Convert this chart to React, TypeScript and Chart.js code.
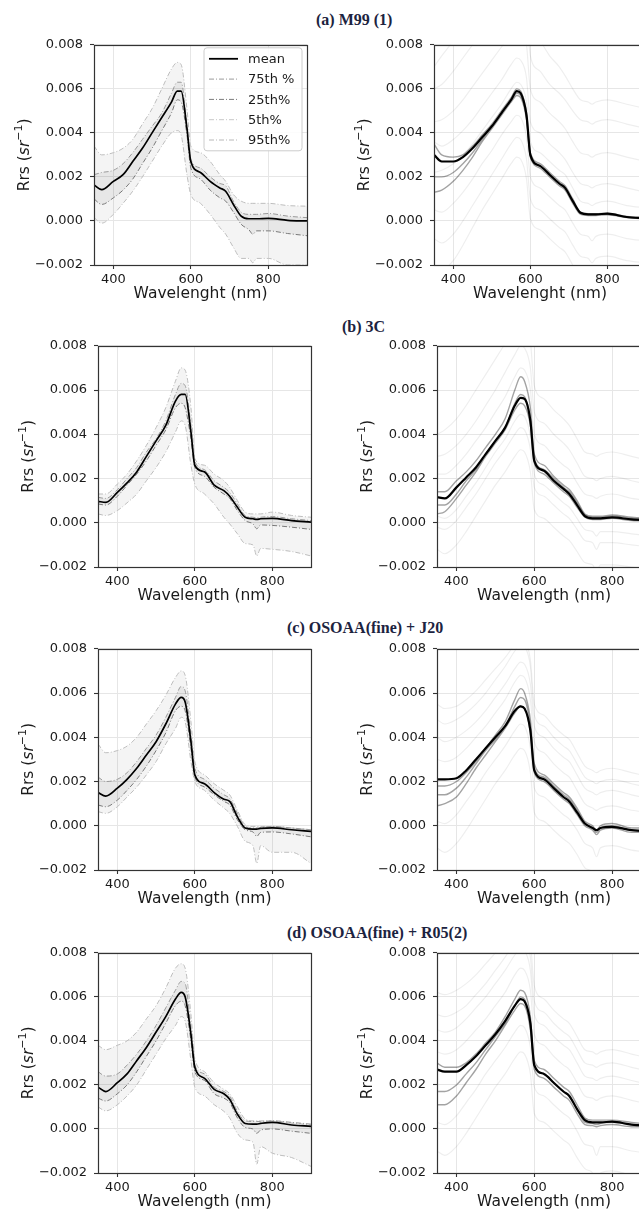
import React, { useEffect, useRef } from "react";
import { Chart, registerables } from "chart.js";
Chart.register(...registerables);

// ---------------- DATA ----------------
const WAVELENGTHS = [350, 370, 400, 425, 450, 475, 500, 525, 550, 565, 575, 590, 600, 625, 650, 675, 690, 710, 730, 750, 760, 770, 800, 850, 900];
const X_TICKS = [400, 600, 800];
const Y_TICKS = [-0.002, 0, 0.002, 0.004, 0.006, 0.008];
const PANEL_TITLES = ["(a) M99 (1)", "(b) 3C", "(c) OSOAA(fine) + J20", "(d) OSOAA(fine) + R05(2)"];
const X_TITLES = ["Wavelenght (nm)", "Wavelength (nm)", "Wavelength (nm)", "Wavelength (nm)"];
const LEGEND_LABELS = ["mean", "75th %", "25th%", "5th%", "95th%"];

// (a) M99 (1) statistics
const A_MEAN = [0.00164, 0.00142, 0.0018, 0.0021, 0.0027, 0.0033, 0.0040, 0.0047, 0.0054, 0.0059, 0.0059, 0.0042, 0.0027, 0.0022, 0.0018, 0.0015, 0.00135, 0.00075, 0.00022, 0.0001, 0.0001, 0.0001, 0.00012, 0.00003, 0.0];
const A_P75 = [0.0021, 0.0022, 0.0023, 0.0026, 0.0031, 0.0037, 0.0043, 0.0049, 0.0058, 0.0063, 0.0063, 0.0043, 0.0028, 0.0024, 0.0020, 0.0017, 0.0016, 0.0009, 0.0004, 0.0003, 0.0003, 0.0003, 0.00034, 0.00022, 0.00015];
const A_P25 = [0.0010, 0.00075, 0.00105, 0.0014, 0.0019, 0.0026, 0.0033, 0.0041, 0.0049, 0.0055, 0.0054, 0.0039, 0.0024, 0.0019, 0.0014, 0.00105, 0.0009, 0.0004, -0.00015, -0.0004, -0.0006, -0.00045, -0.00045, -0.00057, -0.00067];
const A_P95 = [0.0034, 0.0030, 0.0031, 0.0033, 0.0037, 0.0044, 0.0051, 0.0060, 0.0069, 0.0072, 0.0071, 0.0051, 0.0034, 0.0031, 0.0027, 0.0021, 0.0018, 0.0012, 0.0009, 0.0008, 0.0008, 0.0008, 0.0008, 0.0007, 0.00067];
const A_P5 = [0.00015, -0.0001, 0.0003, 0.0008, 0.00135, 0.0020, 0.0027, 0.0034, 0.0040, 0.0041, 0.0039, 0.0021, 0.0012, 0.0008, 0.0003, -0.0003, -0.0006, -0.0012, -0.0017, -0.0017, -0.0019, -0.0017, -0.0017, -0.0020, -0.0020];

// (b) 3C statistics
const B_MEAN = [0.00097, 0.00092, 0.00137, 0.0018, 0.0023, 0.0030, 0.0037, 0.0044, 0.0055, 0.0058, 0.0058, 0.0041, 0.0026, 0.0023, 0.0017, 0.00145, 0.0012, 0.0007, 0.00025, 0.00018, 0.00015, 0.00018, 0.0002, 0.0001, 0.00003];
const B_P75 = [0.00115, 0.0011, 0.0015, 0.0020, 0.0025, 0.0032, 0.0038, 0.0046, 0.0058, 0.0063, 0.0062, 0.0044, 0.0028, 0.0024, 0.0019, 0.0016, 0.00137, 0.00085, 0.00033, 0.00025, 0.00022, 0.00025, 0.00028, 0.00018, 0.0001];
const B_P25 = [0.00085, 0.0008, 0.0012, 0.0017, 0.0022, 0.0028, 0.0035, 0.0042, 0.0052, 0.0054, 0.0052, 0.0038, 0.0025, 0.0021, 0.0016, 0.0013, 0.0011, 0.00055, 0.0001, -0.00005, -0.00027, -0.0001, -0.00012, -0.0002, -0.0003];
const B_P95 = [0.0013, 0.0013, 0.00175, 0.0022, 0.0028, 0.0035, 0.0043, 0.0052, 0.0064, 0.0070, 0.0069, 0.0052, 0.0029, 0.0026, 0.0022, 0.0019, 0.0016, 0.0010, 0.00048, 0.0004, 0.0004, 0.0004, 0.00048, 0.00033, 0.00025];
const B_P5 = [0.0004, 0.00033, 0.00055, 0.0009, 0.0013, 0.0019, 0.0025, 0.0032, 0.0041, 0.0046, 0.0044, 0.0026, 0.00175, 0.0013, 0.00085, 0.00025, -0.00005, -0.0005, -0.00094, -0.0010, -0.0015, -0.00116, -0.0012, -0.0013, -0.0015];

// (c) OSOAA(fine) + J20 statistics
const C_MEAN = [0.0015, 0.00134, 0.0017, 0.0021, 0.0026, 0.0032, 0.0038, 0.0046, 0.0055, 0.0058, 0.0056, 0.0038, 0.0023, 0.0019, 0.0015, 0.0012, 0.0011, 0.0004, -0.0001, -0.00015, -0.00015, -0.00012, -0.0001, -0.00018, -0.00025];
const C_P75 = [0.0022, 0.0020, 0.0021, 0.0024, 0.0029, 0.0035, 0.0041, 0.0049, 0.0058, 0.0063, 0.0061, 0.0041, 0.0026, 0.0021, 0.0017, 0.0014, 0.00123, 0.00057, -0.00003, -0.0001, -0.0001, -0.00008, -0.00003, -0.0001, -0.00018];
const C_P25 = [0.00094, 0.00086, 0.00116, 0.0016, 0.0021, 0.0027, 0.0034, 0.0042, 0.0052, 0.0054, 0.0052, 0.0035, 0.0022, 0.00175, 0.0014, 0.0011, 0.00094, 0.00027, -0.00018, -0.00028, -0.00048, -0.0003, -0.00028, -0.00037, -0.0005];
const C_P95 = [0.0037, 0.0033, 0.0034, 0.0036, 0.0040, 0.0046, 0.0052, 0.0059, 0.0067, 0.0070, 0.0068, 0.0047, 0.0029, 0.0023, 0.0019, 0.0016, 0.0014, 0.0007, 0.00005, -0.00003, -0.00003, -0.00003, -0.00003, -0.0001, -0.00018];
const C_P5 = [0.00064, 0.00056, 0.00086, 0.0013, 0.00175, 0.0023, 0.0029, 0.0037, 0.0044, 0.0049, 0.0047, 0.0029, 0.0020, 0.0016, 0.00116, 0.0008, 0.00056, -0.00003, -0.0007, -0.0009, -0.0017, -0.0009, -0.0012, -0.0012, -0.0017];

// (d) OSOAA(fine) + R05(2) statistics
const D_MEAN = [0.0019, 0.0017, 0.0021, 0.0025, 0.0031, 0.0037, 0.0044, 0.0051, 0.0059, 0.0062, 0.0060, 0.0043, 0.0028, 0.0023, 0.0018, 0.0016, 0.00135, 0.00067, 0.00025, 0.00022, 0.00022, 0.00025, 0.0003, 0.00018, 0.00012];
const D_P75 = [0.0026, 0.0024, 0.0025, 0.0029, 0.0034, 0.0040, 0.0047, 0.0055, 0.0063, 0.0067, 0.0066, 0.0046, 0.0029, 0.0025, 0.0019, 0.0017, 0.0015, 0.0008, 0.00037, 0.00034, 0.00034, 0.00034, 0.00037, 0.0003, 0.00022];
const D_P25 = [0.0014, 0.00127, 0.0016, 0.0020, 0.0026, 0.0033, 0.0040, 0.0048, 0.0056, 0.0058, 0.0056, 0.0040, 0.0026, 0.0022, 0.0016, 0.0014, 0.0012, 0.0005, 0.00007, 0.0, -0.0002, -0.00005, 0.0, -0.0001, -0.0002];
const D_P95 = [0.0038, 0.0036, 0.0038, 0.0040, 0.0044, 0.0050, 0.0056, 0.0064, 0.0073, 0.0075, 0.0073, 0.0052, 0.0032, 0.0026, 0.0021, 0.0018, 0.0016, 0.0010, 0.00045, 0.00037, 0.00037, 0.00037, 0.00037, 0.00027, 0.00018];
const D_P5 = [0.0010, 0.00082, 0.0011, 0.0015, 0.0020, 0.0027, 0.0034, 0.0041, 0.0047, 0.0051, 0.0049, 0.0031, 0.0019, 0.0015, 0.0011, 0.0008, 0.0005, -0.0002, -0.0005, -0.0006, -0.0016, -0.0008, -0.0011, -0.0013, -0.0017];

// Right-hand panels: dense core spectrum, near-core spectra, faint outlying spectra
const A_CORE = [0.0030, 0.0027, 0.0027, 0.0029, 0.0033, 0.0038, 0.0043, 0.0049, 0.0055, 0.0059, 0.0058, 0.0048, 0.0030, 0.0025, 0.0021, 0.0017, 0.0015, 0.0009, 0.00037, 0.0003, 0.0003, 0.0003, 0.00033, 0.00018, 0.00012];
const A_NEAR1 = [0.0013, 0.0014, 0.0018, 0.0023, 0.0029, 0.0036, 0.0042, 0.0048, 0.0054, 0.0057, 0.0056, 0.0046, 0.0029, 0.0024, 0.0020, 0.0016, 0.0014, 0.0008, 0.0003, 0.00025, 0.00025, 0.00025, 0.00028, 0.00015, 0.0001];
const A_NEAR2 = [0.0020, 0.0020, 0.0022, 0.0026, 0.0031, 0.0037, 0.0043, 0.0049, 0.0055, 0.0058, 0.0057, 0.0047, 0.0029, 0.0025, 0.0021, 0.0017, 0.0015, 0.0009, 0.00035, 0.0003, 0.0003, 0.0003, 0.0003, 0.00017, 0.00011];
const A_NEAR3 = [0.0035, 0.0030, 0.0029, 0.0030, 0.0034, 0.0039, 0.0044, 0.0050, 0.0056, 0.0060, 0.0059, 0.0049, 0.0031, 0.0026, 0.0022, 0.0018, 0.0016, 0.0010, 0.0004, 0.00033, 0.00033, 0.00033, 0.00035, 0.0002, 0.00014];
const A_FAINT1 = [0.0070, 0.0075, 0.0082, 0.0090, 0.0096, 0.0100, 0.0105, 0.0110, 0.0112, 0.0113, 0.0112, 0.0108, 0.0090, 0.0082, 0.0075, 0.0070, 0.0066, 0.0060, 0.0055, 0.0054, 0.0053, 0.0054, 0.0055, 0.0053, 0.0051];
const A_FAINT2 = [0.0060, 0.0062, 0.0068, 0.0074, 0.0080, 0.0086, 0.0090, 0.0095, 0.0098, 0.0100, 0.0099, 0.0094, 0.0075, 0.0068, 0.0062, 0.0058, 0.0055, 0.0050, 0.0046, 0.0045, 0.0044, 0.0045, 0.0046, 0.0044, 0.0042];
const A_FAINT3 = [0.0045, 0.0046, 0.0050, 0.0055, 0.0061, 0.0067, 0.0073, 0.0079, 0.0085, 0.0088, 0.0087, 0.0080, 0.0060, 0.0054, 0.0049, 0.0045, 0.0042, 0.0036, 0.0031, 0.0030, 0.0029, 0.0030, 0.0031, 0.0029, 0.0027];
const A_FAINT4 = [0.0036, 0.0034, 0.0037, 0.0041, 0.0046, 0.0052, 0.0058, 0.0064, 0.0071, 0.0074, 0.0073, 0.0065, 0.0045, 0.0040, 0.0035, 0.0031, 0.0028, 0.0022, 0.0017, 0.0016, 0.0015, 0.0016, 0.0017, 0.0015, 0.0013];
const A_FAINT5 = [0.0022, 0.0023, 0.0026, 0.0030, 0.0035, 0.0041, 0.0047, 0.0053, 0.0060, 0.0063, 0.0062, 0.0054, 0.0036, 0.0031, 0.0027, 0.0023, 0.0021, 0.0015, 0.0009, 0.0008, 0.0007, 0.0008, 0.0009, 0.0007, 0.0006];
const A_FAINT6 = [0.0005, 0.0004, 0.0008, 0.0013, 0.0019, 0.0026, 0.0032, 0.0039, 0.0045, 0.0048, 0.0047, 0.0038, 0.0020, 0.0015, 0.0011, 0.0007, 0.0005, -0.0001, -0.0006, -0.0007, -0.0009, -0.0007, -0.0006, -0.0008, -0.0009];
const A_FAINT7 = [-0.0008, -0.0010, -0.0006, 0.0000, 0.0007, 0.0014, 0.0021, 0.0028, 0.0035, 0.0038, 0.0037, 0.0028, 0.0010, 0.0005, 0.0001, -0.0003, -0.0005, -0.0011, -0.0016, -0.0017, -0.0019, -0.0017, -0.0016, -0.0018, -0.0019];
const A_FAINT8 = [-0.0020, -0.0022, -0.0018, -0.0011, -0.0003, 0.0005, 0.0012, 0.0019, 0.0026, 0.0029, 0.0028, 0.0019, 0.0001, -0.0004, -0.0008, -0.0012, -0.0014, -0.0020, -0.0025, -0.0026, -0.0028, -0.0026, -0.0025, -0.0027, -0.0028];

const B_CORE = [0.00116, 0.0011, 0.0016, 0.00205, 0.0025, 0.0031, 0.0037, 0.0043, 0.0053, 0.00565, 0.0056, 0.0046, 0.0028, 0.00235, 0.0019, 0.00153, 0.0013, 0.0008, 0.0003, 0.0002, 0.0002, 0.0002, 0.00024, 0.00015, 0.00012];
const B_NEAR1 = [0.0004, 0.0005, 0.0011, 0.0017, 0.0023, 0.0030, 0.0036, 0.0042, 0.0051, 0.0054, 0.0053, 0.0044, 0.0027, 0.0022, 0.0018, 0.0014, 0.0012, 0.0007, 0.00025, 0.00015, 0.00015, 0.00015, 0.0002, 0.0001, 0.00008];
const B_NEAR2 = [0.0008, 0.0008, 0.0013, 0.0019, 0.0024, 0.0031, 0.0037, 0.0043, 0.0054, 0.0058, 0.0057, 0.0047, 0.0029, 0.0024, 0.0020, 0.0016, 0.0014, 0.0009, 0.00035, 0.00025, 0.00025, 0.00025, 0.0003, 0.0002, 0.00015];
const B_NEAR3 = [0.0014, 0.0014, 0.0019, 0.0023, 0.0028, 0.0034, 0.0040, 0.0047, 0.0060, 0.0066, 0.0064, 0.0052, 0.0031, 0.0026, 0.0021, 0.0017, 0.0015, 0.0010, 0.0004, 0.0003, 0.0003, 0.0003, 0.00035, 0.00025, 0.0002];
const B_FAINT1 = [0.0040, 0.0042, 0.0047, 0.0053, 0.0060, 0.0067, 0.0074, 0.0081, 0.0088, 0.0092, 0.0091, 0.0082, 0.0062, 0.0056, 0.0051, 0.0047, 0.0044, 0.0038, 0.0032, 0.0031, 0.0030, 0.0031, 0.0032, 0.0030, 0.0028];
const B_FAINT2 = [0.0030, 0.0031, 0.0035, 0.0040, 0.0046, 0.0053, 0.0060, 0.0068, 0.0076, 0.0080, 0.0079, 0.0070, 0.0050, 0.0045, 0.0040, 0.0036, 0.0033, 0.0027, 0.0021, 0.0020, 0.0019, 0.0020, 0.0021, 0.0019, 0.0017];
const B_FAINT3 = [0.0022, 0.0022, 0.0026, 0.0031, 0.0037, 0.0043, 0.0050, 0.0057, 0.0066, 0.0070, 0.0069, 0.0060, 0.0040, 0.0035, 0.0030, 0.0026, 0.0024, 0.0018, 0.0013, 0.0012, 0.0011, 0.0012, 0.0013, 0.0011, 0.0010];
const B_FAINT4 = [0.0003, 0.0002, 0.0006, 0.0012, 0.0018, 0.0025, 0.0032, 0.0038, 0.0046, 0.0049, 0.0048, 0.0039, 0.0022, 0.0017, 0.0013, 0.0009, 0.0007, 0.0002, -0.0003, -0.0004, -0.0006, -0.0004, -0.0004, -0.0005, -0.0006];
const B_FAINT5 = [-0.0002, -0.0003, 0.0001, 0.0007, 0.0013, 0.0020, 0.0027, 0.0033, 0.0040, 0.0043, 0.0042, 0.0033, 0.0016, 0.0012, 0.0008, 0.0004, 0.0002, -0.0003, -0.0008, -0.0009, -0.0012, -0.0009, -0.0009, -0.0010, -0.0011];
const B_FAINT6 = [-0.0012, -0.0014, -0.0010, -0.0004, 0.0003, 0.0010, 0.0017, 0.0023, 0.0030, 0.0033, 0.0032, 0.0023, 0.0006, 0.0002, -0.0002, -0.0006, -0.0008, -0.0013, -0.0018, -0.0019, -0.0022, -0.0019, -0.0019, -0.0020, -0.0021];

const C_CORE = [0.0021, 0.0021, 0.00215, 0.0025, 0.0030, 0.0035, 0.0040, 0.0045, 0.0052, 0.0054, 0.0053, 0.0043, 0.0025, 0.0021, 0.0017, 0.0013, 0.0011, 0.0006, 0.0001, -0.0001, -0.0002, -0.0001, -0.00005, -0.0002, -0.00025];
const C_NEAR1 = [0.0009, 0.0010, 0.0013, 0.0019, 0.0026, 0.0032, 0.0038, 0.0044, 0.0051, 0.0054, 0.0053, 0.0042, 0.0024, 0.0020, 0.0016, 0.0012, 0.0010, 0.0005, 0.0000, -0.0002, -0.0004, -0.0002, -0.0001, -0.0003, -0.0003];
const C_NEAR2 = [0.0014, 0.0014, 0.0017, 0.0022, 0.0028, 0.0034, 0.0039, 0.0045, 0.0054, 0.0058, 0.0057, 0.0045, 0.0026, 0.0022, 0.0018, 0.0014, 0.0012, 0.0007, 0.0001, -0.0001, -0.0003, -0.0001, 0.0000, -0.0002, -0.0002];
const C_NEAR3 = [0.0018, 0.0018, 0.0020, 0.0024, 0.0029, 0.0035, 0.0041, 0.0047, 0.0057, 0.0062, 0.0060, 0.0048, 0.0028, 0.0023, 0.0019, 0.0015, 0.0013, 0.0008, 0.0002, 0.0000, -0.0002, 0.0000, 0.0001, -0.0001, -0.0001];
const C_FAINT1 = [0.0055, 0.0053, 0.0054, 0.0057, 0.0061, 0.0066, 0.0071, 0.0076, 0.0082, 0.0085, 0.0084, 0.0075, 0.0055, 0.0050, 0.0045, 0.0041, 0.0039, 0.0033, 0.0027, 0.0025, 0.0024, 0.0025, 0.0026, 0.0024, 0.0022];
const C_FAINT2 = [0.0048, 0.0046, 0.0048, 0.0051, 0.0055, 0.0060, 0.0066, 0.0072, 0.0079, 0.0082, 0.0081, 0.0072, 0.0050, 0.0045, 0.0040, 0.0036, 0.0034, 0.0028, 0.0022, 0.0020, 0.0019, 0.0020, 0.0021, 0.0019, 0.0017];
const C_FAINT3 = [0.0040, 0.0038, 0.0040, 0.0043, 0.0047, 0.0052, 0.0058, 0.0064, 0.0071, 0.0074, 0.0073, 0.0064, 0.0045, 0.0040, 0.0035, 0.0031, 0.0029, 0.0023, 0.0017, 0.0015, 0.0014, 0.0015, 0.0016, 0.0014, 0.0012];
const C_FAINT4 = [0.0030, 0.0029, 0.0031, 0.0035, 0.0040, 0.0045, 0.0051, 0.0057, 0.0065, 0.0068, 0.0067, 0.0057, 0.0038, 0.0033, 0.0028, 0.0024, 0.0022, 0.0016, 0.0010, 0.0008, 0.0007, 0.0008, 0.0009, 0.0007, 0.0006];
const C_FAINT5 = [0.0002, 0.0001, 0.0005, 0.0011, 0.0017, 0.0024, 0.0030, 0.0036, 0.0043, 0.0046, 0.0045, 0.0035, 0.0017, 0.0013, 0.0009, 0.0005, 0.0003, -0.0002, -0.0008, -0.0010, -0.0014, -0.0010, -0.0009, -0.0011, -0.0012];
const C_FAINT6 = [-0.0010, -0.0012, -0.0008, -0.0002, 0.0005, 0.0012, 0.0019, 0.0025, 0.0032, 0.0035, 0.0034, 0.0024, 0.0006, 0.0002, -0.0002, -0.0006, -0.0008, -0.0013, -0.0019, -0.0021, -0.0025, -0.0021, -0.0020, -0.0022, -0.0023];

const D_CORE = [0.0027, 0.0026, 0.0026, 0.0029, 0.0033, 0.0038, 0.0043, 0.0049, 0.0056, 0.0059, 0.0058, 0.0048, 0.0029, 0.0025, 0.0021, 0.0017, 0.0015, 0.0009, 0.0004, 0.0003, 0.0003, 0.0003, 0.00033, 0.0002, 0.00015];
const D_NEAR1 = [0.0011, 0.0011, 0.0015, 0.0021, 0.0027, 0.0034, 0.0040, 0.0047, 0.0054, 0.0057, 0.0056, 0.0045, 0.0027, 0.0023, 0.0019, 0.0015, 0.0013, 0.0007, 0.0002, 0.00015, 0.0001, 0.00015, 0.0002, 0.0001, 0.0001];
const D_NEAR2 = [0.0017, 0.0017, 0.0020, 0.0025, 0.0030, 0.0036, 0.0042, 0.0048, 0.0056, 0.0060, 0.0059, 0.0048, 0.0029, 0.0025, 0.0021, 0.0017, 0.0015, 0.0009, 0.0003, 0.00025, 0.0002, 0.00025, 0.0003, 0.0002, 0.00015];
const D_NEAR3 = [0.0030, 0.0028, 0.0028, 0.0030, 0.0034, 0.0039, 0.0044, 0.0051, 0.0059, 0.0063, 0.0062, 0.0051, 0.0031, 0.0027, 0.0023, 0.0019, 0.0017, 0.0011, 0.0005, 0.0004, 0.0004, 0.0004, 0.0004, 0.0003, 0.0002];
const D_FAINT1 = [0.0062, 0.0061, 0.0063, 0.0066, 0.0070, 0.0075, 0.0080, 0.0086, 0.0092, 0.0095, 0.0094, 0.0085, 0.0065, 0.0059, 0.0054, 0.0050, 0.0048, 0.0042, 0.0036, 0.0035, 0.0034, 0.0035, 0.0036, 0.0034, 0.0032];
const D_FAINT2 = [0.0052, 0.0051, 0.0053, 0.0056, 0.0061, 0.0066, 0.0072, 0.0078, 0.0085, 0.0088, 0.0087, 0.0078, 0.0058, 0.0053, 0.0048, 0.0044, 0.0042, 0.0036, 0.0030, 0.0029, 0.0028, 0.0029, 0.0030, 0.0028, 0.0026];
const D_FAINT3 = [0.0045, 0.0044, 0.0046, 0.0050, 0.0055, 0.0060, 0.0066, 0.0072, 0.0079, 0.0082, 0.0081, 0.0072, 0.0052, 0.0047, 0.0042, 0.0038, 0.0036, 0.0030, 0.0024, 0.0023, 0.0022, 0.0023, 0.0024, 0.0022, 0.0020];
const D_FAINT4 = [0.0035, 0.0034, 0.0036, 0.0040, 0.0045, 0.0050, 0.0056, 0.0062, 0.0070, 0.0073, 0.0072, 0.0063, 0.0043, 0.0038, 0.0033, 0.0029, 0.0027, 0.0021, 0.0015, 0.0014, 0.0013, 0.0014, 0.0015, 0.0013, 0.0011];
const D_FAINT5 = [0.0003, 0.0002, 0.0006, 0.0012, 0.0018, 0.0025, 0.0031, 0.0037, 0.0044, 0.0047, 0.0046, 0.0037, 0.0019, 0.0015, 0.0011, 0.0007, 0.0005, -0.0001, -0.0007, -0.0008, -0.0012, -0.0008, -0.0008, -0.0010, -0.0011];
const D_FAINT6 = [-0.0010, -0.0012, -0.0008, -0.0002, 0.0005, 0.0012, 0.0019, 0.0025, 0.0032, 0.0035, 0.0034, 0.0025, 0.0007, 0.0003, -0.0001, -0.0005, -0.0007, -0.0013, -0.0018, -0.0020, -0.0024, -0.0020, -0.0019, -0.0021, -0.0022];

// ---------------- LAYOUT / STYLE ----------------
const PAD_L = 90, PAD_T = 12, PAD_R = 10, PAD_B = 50;
const TICK_FONT = { family: "DejaVu Sans", size: 13 };
const TEXT_COLOR = "#1a1a1a";
const DASHDOT = [5, 2, 1, 2];

const pts = (arr: number[]) => WAVELENGTHS.map((x, i) => ({ x, y: arr[i] }));

function statsDatasets(mean: number[], p75: number[], p25: number[], p95: number[], p5: number[]) {
  return [
    { data: pts(mean), borderColor: "#000000", borderWidth: 1.7, fill: false },
    { data: pts(p75), borderColor: "#9a9a9a", borderWidth: 1, borderDash: DASHDOT, fill: 2, backgroundColor: "rgba(0,0,0,0.055)" },
    { data: pts(p25), borderColor: "#7c7c7c", borderWidth: 1, borderDash: DASHDOT, fill: false },
    { data: pts(p95), borderColor: "#bdbdbd", borderWidth: 1, borderDash: DASHDOT, fill: 4, backgroundColor: "rgba(0,0,0,0.045)" },
    { data: pts(p5), borderColor: "#c2c2c2", borderWidth: 1, borderDash: DASHDOT, fill: false },
  ];
}

function spectraDatasets(core: number[], near: number[][], faint: number[][]) {
  return [
    { data: pts(core), borderColor: "#000000", borderWidth: 2.2, fill: false },
    ...near.map((a) => ({ data: pts(a), borderColor: "rgba(0,0,0,0.36)", borderWidth: 1.4, fill: false })),
    ...faint.map((a) => ({ data: pts(a), borderColor: "rgba(0,0,0,0.065)", borderWidth: 1.2, fill: false })),
  ];
}

const LEGEND_STYLES = [
  { color: "#000000", width: 1.8, dash: [] as number[] },
  { color: "#9a9a9a", width: 1, dash: DASHDOT },
  { color: "#7c7c7c", width: 1, dash: DASHDOT },
  { color: "#c8c8c8", width: 1, dash: DASHDOT },
  { color: "#b8b8b8", width: 1, dash: DASHDOT },
];

const fmtY = (v: number) => {
  const r = Math.round(v * 1000) / 1000;
  return (r < 0 ? "\u2212" : "") + Math.abs(r).toFixed(3);
};

function makeDecorPlugin(xTitle: string, legend: boolean) {
  return {
    id: "decor",
    afterDraw(chart: any) {
      const ctx = chart.ctx;
      const ca = chart.chartArea;
      ctx.save();
      // frame
      ctx.strokeStyle = "#333333";
      ctx.lineWidth = 1.2;
      ctx.setLineDash([]);
      ctx.strokeRect(Math.round(ca.left) + 0.5, Math.round(ca.top) + 0.5, Math.round(ca.right - ca.left), Math.round(ca.bottom - ca.top));
      // x title
      ctx.fillStyle = TEXT_COLOR;
      ctx.font = '15.5px "DejaVu Sans"';
      ctx.textAlign = "center";
      ctx.textBaseline = "middle";
      ctx.fillText(xTitle, (ca.left + ca.right) / 2, ca.bottom + 29);
      // y title: Rrs (sr^-1)
      ctx.save();
      ctx.translate(ca.left - 71, (ca.top + ca.bottom) / 2);
      ctx.rotate(-Math.PI / 2);
      const pieces = [
        { t: "Rrs (", f: '15.5px "DejaVu Sans"', dy: 5.5 },
        { t: "sr", f: 'italic 15.5px "DejaVu Sans"', dy: 5.5 },
        { t: "\u22121", f: '11px "DejaVu Sans"', dy: -1 },
        { t: ")", f: '15.5px "DejaVu Sans"', dy: 5.5 },
      ];
      let total = 0;
      for (const p of pieces) { ctx.font = p.f; total += ctx.measureText(p.t).width; }
      let x = -total / 2;
      ctx.textAlign = "left";
      ctx.textBaseline = "alphabetic";
      for (const p of pieces) {
        ctx.font = p.f;
        ctx.fillText(p.t, x, p.dy);
        x += ctx.measureText(p.t).width;
      }
      ctx.restore();
      // legend
      if (legend) {
        const bx = ca.right - 103, by = ca.top + 3, bw = 98, bh = 103;
        ctx.beginPath();
        const r = 3;
        ctx.moveTo(bx + r, by);
        ctx.lineTo(bx + bw - r, by);
        ctx.quadraticCurveTo(bx + bw, by, bx + bw, by + r);
        ctx.lineTo(bx + bw, by + bh - r);
        ctx.quadraticCurveTo(bx + bw, by + bh, bx + bw - r, by + bh);
        ctx.lineTo(bx + r, by + bh);
        ctx.quadraticCurveTo(bx, by + bh, bx, by + bh - r);
        ctx.lineTo(bx, by + r);
        ctx.quadraticCurveTo(bx, by, bx + r, by);
        ctx.closePath();
        ctx.fillStyle = "rgba(255,255,255,0.85)";
        ctx.fill();
        ctx.strokeStyle = "#cccccc";
        ctx.lineWidth = 1;
        ctx.stroke();
        ctx.font = '13px "DejaVu Sans"';
        ctx.textAlign = "left";
        ctx.textBaseline = "middle";
        LEGEND_LABELS.forEach((lab, i) => {
          const yy = by + 11 + i * 20.3;
          const st = LEGEND_STYLES[i];
          ctx.beginPath();
          ctx.strokeStyle = st.color;
          ctx.lineWidth = st.width;
          ctx.setLineDash(st.dash);
          ctx.moveTo(bx + 5, yy);
          ctx.lineTo(bx + 34, yy);
          ctx.stroke();
          ctx.setLineDash([]);
          ctx.fillStyle = TEXT_COLOR;
          ctx.fillText(lab, bx + 44, yy + 1);
        });
      }
      ctx.restore();
    },
  };
}

type PanelProps = { area: number[]; datasets: any[]; xTitle: string; legend?: boolean };

function Panel({ area, datasets, xTitle, legend }: PanelProps) {
  const ref = useRef<HTMLCanvasElement | null>(null);
  const [l, t, r, b] = area;
  const w = r - l + PAD_L + PAD_R;
  const h = b - t + PAD_T + PAD_B;
  useEffect(() => {
    const canvas = ref.current!;
    const gridCommon = { color: "#e6e6e6", lineWidth: 1, tickLength: 4, tickColor: "#333333", tickWidth: 1.1, drawTicks: true };
    const chart = new Chart(canvas, {
      type: "line",
      data: {
        datasets: datasets.map((d) => ({ pointRadius: 0, cubicInterpolationMode: "monotone", ...d })),
      },
      options: {
        responsive: false,
        animation: false,
        devicePixelRatio: 1,
        layout: { padding: { left: 0, top: PAD_T, right: PAD_R, bottom: 0 } },
        plugins: { legend: { display: false }, tooltip: { enabled: false } },
        events: [],
        scales: {
          x: {
            type: "linear",
            min: 350,
            max: 900,
            afterBuildTicks: (s: any) => { s.ticks = X_TICKS.map((v) => ({ value: v })); },
            afterFit: (s: any) => { s.height = PAD_B; },
            grid: gridCommon,
            border: { display: false },
            ticks: { font: TICK_FONT, color: TEXT_COLOR, padding: 3, maxRotation: 0, autoSkip: false, callback: (v: any) => String(v) },
          },
          y: {
            type: "linear",
            min: -0.002,
            max: 0.008,
            afterBuildTicks: (s: any) => { s.ticks = Y_TICKS.map((v) => ({ value: v })); },
            afterFit: (s: any) => { s.width = PAD_L; },
            grid: gridCommon,
            border: { display: false },
            ticks: { font: TICK_FONT, color: TEXT_COLOR, padding: 7, autoSkip: false, callback: (v: any) => fmtY(v) },
          },
        },
      } as any,
      plugins: [makeDecorPlugin(xTitle, !!legend)],
    });
    return () => chart.destroy();
  }, []);
  return (
    <canvas
      ref={ref}
      width={w}
      height={h}
      style={{ position: "absolute", left: l - PAD_L, top: t - PAD_T, width: w, height: h, display: "block" }}
    />
  );
}

// chart areas [left, top, right, bottom] in page pixels
const AREAS_LEFT = [
  [94, 42, 307, 265],
  [98, 343, 311, 567],
  [98, 646, 311, 870],
  [98, 950, 311, 1173],
];
const AREAS_RIGHT = [
  [434, 42, 646, 265],
  [437, 343, 651, 567],
  [437, 646, 651, 870],
  [437, 950, 651, 1173],
];
const TITLE_POS = [
  [316, 20],
  [342, 327],
  [287, 628],
  [287, 933],
];

export default function App() {
  const stats = [
    statsDatasets(A_MEAN, A_P75, A_P25, A_P95, A_P5),
    statsDatasets(B_MEAN, B_P75, B_P25, B_P95, B_P5),
    statsDatasets(C_MEAN, C_P75, C_P25, C_P95, C_P5),
    statsDatasets(D_MEAN, D_P75, D_P25, D_P95, D_P5),
  ];
  const spectra = [
    spectraDatasets(A_CORE, [A_NEAR1, A_NEAR2, A_NEAR3], [A_FAINT1, A_FAINT2, A_FAINT3, A_FAINT4, A_FAINT5, A_FAINT6, A_FAINT7, A_FAINT8]),
    spectraDatasets(B_CORE, [B_NEAR1, B_NEAR2, B_NEAR3], [B_FAINT1, B_FAINT2, B_FAINT3, B_FAINT4, B_FAINT5, B_FAINT6]),
    spectraDatasets(C_CORE, [C_NEAR1, C_NEAR2, C_NEAR3], [C_FAINT1, C_FAINT2, C_FAINT3, C_FAINT4, C_FAINT5, C_FAINT6]),
    spectraDatasets(D_CORE, [D_NEAR1, D_NEAR2, D_NEAR3], [D_FAINT1, D_FAINT2, D_FAINT3, D_FAINT4, D_FAINT5, D_FAINT6]),
  ];
  return (
    <div style={{ position: "absolute", left: 0, top: 0, width: 639, height: 1216, overflow: "hidden", background: "#ffffff" }}>
      {PANEL_TITLES.map((title, i) => (
        <div
          key={"t" + i}
          style={{
            position: "absolute",
            left: TITLE_POS[i][0],
            top: TITLE_POS[i][1] - 10,
            height: 20,
            lineHeight: "20px",
            fontFamily: '"Liberation Serif", "Times New Roman", serif',
            fontWeight: "bold",
            fontSize: 16,
            color: "#1c2340",
            whiteSpace: "nowrap",
          }}
        >
          {title}
        </div>
      ))}
      {stats.map((ds, i) => (
        <Panel key={"l" + i} area={AREAS_LEFT[i]} datasets={ds} xTitle={X_TITLES[i]} legend={i === 0} />
      ))}
      {spectra.map((ds, i) => (
        <Panel key={"r" + i} area={AREAS_RIGHT[i]} datasets={ds} xTitle={X_TITLES[i]} />
      ))}
    </div>
  );
}
